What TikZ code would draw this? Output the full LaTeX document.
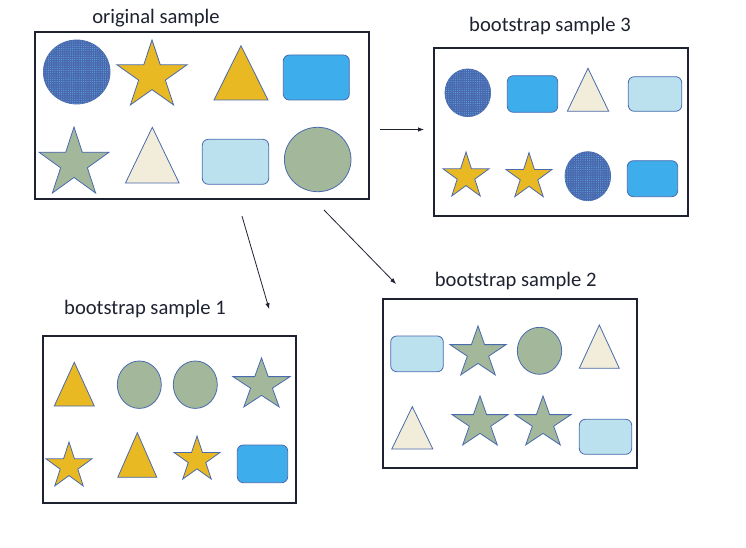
\documentclass[tikz,border=0pt]{standalone}
\usepackage{fontspec}
\setmainfont{Carlito}
\usetikzlibrary{arrows.meta,patterns.meta}
\definecolor{ink}{HTML}{1E2230}
\definecolor{edge}{HTML}{4A6AAE}
\definecolor{navy}{HTML}{4A68AE}
\definecolor{sky}{HTML}{3DAEEB}
\definecolor{pale}{HTML}{BBE1EF}
\definecolor{gold}{HTML}{E8B923}
\definecolor{sage}{HTML}{A3B89B}
\definecolor{cream}{HTML}{F1EDDA}
\tikzset{
  smpbox/.style={draw=ink,line width=1.1pt,inner sep=0pt,outer sep=0pt},
  smptitle/.style={text=ink,font=\fontsize{20.6}{24}\selectfont,inner sep=0pt},
  shp/.style={draw=edge,line width=0.8pt},
  dotball/.style={shp,fill=navy,postaction={pattern color=sky!80,pattern={Dots[radius=0.45pt,distance=2.2pt]}}},
  arr/.style={draw=ink,line width=0.8pt,-{Latex[length=6pt,width=4.5pt]}}
}
\begin{document}
\begin{tikzpicture}[x=1pt,y=-1pt]
\useasboundingbox[fill=white] (0,0) rectangle (746,548);
\node[smpbox,minimum width=334pt,minimum height=167pt] (orig) at (202,115.5) {};
\node[smpbox,minimum width=254pt,minimum height=168pt] (bs3) at (561,132) {};
\node[smpbox,minimum width=254pt,minimum height=169pt] (bs2) at (510,383.5) {};
\node[smpbox,minimum width=253pt,minimum height=167pt] (bs1) at (169.5,419.5) {};
\node[smptitle] (origlab) at (156,18.5) {original sample};
\node[smptitle] (bs3lab) at (550,26) {bootstrap sample 3};
\node[smptitle] (bs2lab) at (515.7,281) {bootstrap sample 2};
\node[smptitle] (bs1lab) at (145,309.5) {bootstrap sample 1};
\draw[arr,shorten <=11pt,shorten >=10pt] ([yshift=-14pt]orig.east) -- ([yshift=2.5pt]bs3.west);
\draw[arr,shorten <=17.7pt,shorten >=28pt] ([xshift=35pt]orig.south) -- ([xshift=107.5pt]bs1.north);
\draw[arr,shorten <=15.3pt,shorten >=20.9pt] ([xshift=111.3pt]orig.south) -- ([xshift=-99.4pt]bs2.north);
% circles
\foreach \x/\y/\rx/\ry in {76.7/72/33.3/32, 467.8/92.8/22.8/23.8, 587.8/176.2/22.8/24.5}
  \draw[dotball] (\x,\y) ellipse [x radius=\rx pt, y radius=\ry pt];
\foreach \x/\y/\rx/\ry in {317.7/159.5/33.3/32.2, 539.5/350.8/22.2/23.5, 139.3/384.7/22/23.7, 195.3/384.7/22/23.7}
  \draw[shp,fill=sage] (\x,\y) ellipse [x radius=\rx pt, y radius=\ry pt];
% stars
\foreach \x/\y/\rx/\ry/\c in {152/75.9/36.8/35.9/gold, 74/163.5/36.8/36.5/sage,
    466/176.3/24.2/24.3/gold, 529/177/24.2/24.3/gold,
    478/353/29.4/27.1/sage, 480/423/29.4/27.1/sage, 543/423/29.4/27.1/sage,
    261.5/385/30/27.1/sage, 69/466.3/24.2/24.3/gold, 197/459.8/24.2/23.8/gold}
  \draw[shp,fill=\c] (\x,{\y-\ry})
    \foreach \k in {1,...,9} { -- ({\x+\rx*(1-0.618*mod(\k,2))*cos(-90+36*\k)},{\y+\ry*(1-0.618*mod(\k,2))*sin(-90+36*\k)}) } -- cycle;
% rounded rectangles
\foreach \a/\b/\c/\d/\f in {283.3/55/349.3/100/sky, 202.3/139.3/268.7/184.3/pale,
    507.3/75.7/557.7/112.3/sky, 628.3/76.7/681.7/111.3/pale, 627.3/160.7/677.7/196.7/sky,
    390.7/336/443.3/371.7/pale, 579.3/419.3/631.7/454.3/pale, 237.3/445/287.7/482.7/sky}
  \draw[shp,rounded corners=6pt,fill=\f] (\a,\b) rectangle (\c,\d);
% triangles
\foreach \x/\t/\w/\b/\f in {241/45.7/54/100/gold, 152.3/127.3/53.6/183/cream,
    588/68.3/41.4/111.3/cream, 599.3/325/40/368.3/cream, 412.3/406.7/41/449/cream,
    74.3/362.3/40/406/gold, 137.3/432.7/39/477.3/gold}
  \draw[shp,fill=\f] (\x,\t) -- ({\x-\w/2},\b) -- ({\x+\w/2},\b) -- cycle;
\end{tikzpicture}
\end{document}
